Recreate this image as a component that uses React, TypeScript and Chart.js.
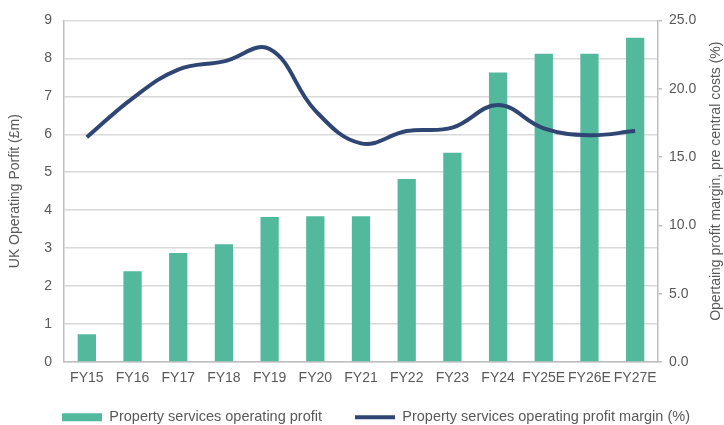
import React, { useEffect, useRef } from "react";
import { Chart, registerables } from "chart.js";

Chart.register(...registerables);

const categories = ["FY15", "FY16", "FY17", "FY18", "FY19", "FY20", "FY21", "FY22", "FY23", "FY24", "FY25E", "FY26E", "FY27E"];
const operatingProfit = [0.73, 2.39, 2.87, 3.1, 3.82, 3.84, 3.84, 4.82, 5.51, 7.63, 8.12, 8.12, 8.54];
const operatingMargin = [16.45, 19.3, 21.4, 22.0, 22.9, 18.4, 16.0, 16.9, 17.15, 18.8, 17.1, 16.6, 16.9];
const leftTicks = [0, 1, 2, 3, 4, 5, 6, 7, 8, 9];
const rightTicks = [0, 5, 10, 15, 20, 25];
const leftTitle = "UK Operating Porfit (£m)";
const rightTitle = "Opertaing profit margin, pre central costs (%)";

const BAR = "#52b99d";
const LINE = "#2f4675";
const TEXT = "#595959";
const FONT = "'Liberation Sans', Arial, sans-serif";

const rightTitlePlugin = {
  id: "rightTitle",
  afterDraw(chart: any) {
    const { ctx, chartArea } = chart;
    ctx.save();
    ctx.fillStyle = TEXT;
    ctx.font = `14px ${FONT}`;
    ctx.textAlign = "center";
    ctx.textBaseline = "middle";
    ctx.translate(716, (chartArea.top + chartArea.bottom) / 2 - 10);
    ctx.rotate(-Math.PI / 2);
    ctx.fillText(rightTitle, 0, 0);
    ctx.restore();
  },
};

const legendShiftPlugin = {
  id: "legendShift",
  afterLayout(chart: any) {
    const lg = chart.legend;
    if (!lg || !lg.lineWidths) return;
    const p = lg.options.labels.padding;
    const x = (lg.left + p + lg.right - lg.lineWidths[0]) / 2;
    const dx = 62 - x;
    lg.left += dx;
    lg.right += dx;
    lg.top -= 10;
  },
};

export default function App() {
  const ref = useRef<HTMLCanvasElement>(null);
  useEffect(() => {
    if (!ref.current) return;
    const chart = new Chart(ref.current, {
      data: {
        labels: categories,
        datasets: [
          {
            type: "line",
            label: "Property services operating profit margin (%)",
            data: operatingMargin,
            yAxisID: "y1",
            borderColor: LINE,
            backgroundColor: LINE,
            borderWidth: 4,
            pointRadius: 0,
            tension: 0.4,
            pointStyle: "line",
            order: 0,
          },
          {
            type: "bar",
            label: "Property services operating profit",
            data: operatingProfit,
            yAxisID: "y",
            backgroundColor: BAR,
            borderWidth: 0,
            barPercentage: 0.4,
            categoryPercentage: 1,
            pointStyle: "rect",
            order: 1,
          },
        ],
      },
      plugins: [rightTitlePlugin, legendShiftPlugin],
      options: {
        animation: false,
        responsive: true,
        maintainAspectRatio: false,
        layout: { padding: { left: 6, right: 0, top: 15, bottom: 0 } },
        plugins: {
          tooltip: { enabled: false },
          legend: {
            position: "bottom",
            reverse: true,
            maxHeight: 38,
            labels: {
              usePointStyle: true,
              pointStyleWidth: 40,
              boxWidth: 40,
              boxHeight: 8,
              padding: 33,
              color: TEXT,
              font: { family: FONT, size: 14.5 },
            },
          },
        },
        scales: {
          x: {
            grid: { display: false, drawTicks: false },
            border: { color: "#bfbfbf", width: 1.5 },
            ticks: { color: TEXT, font: { family: FONT, size: 14 }, padding: 8, maxRotation: 0, autoSkip: false },
            afterFit: (axis: any) => {
              axis.height = 25;
            },
          },
          y: {
            position: "left",
            min: 0,
            max: 9,
            afterBuildTicks: (axis: any) => {
              axis.ticks = leftTicks.map((v) => ({ value: v }));
            },
            afterFit: (axis: any) => {
              axis.width = 58;
            },
            grid: { color: "#d9d9d9", lineWidth: 1.5, drawTicks: false },
            border: { color: "#bfbfbf", width: 1.5 },
            ticks: { color: TEXT, font: { family: FONT, size: 14 }, padding: 12 },
            title: { display: true, text: leftTitle, color: TEXT, font: { family: FONT, size: 14 }, padding: 1 },
          },
          y1: {
            position: "right",
            min: 0,
            max: 25,
            afterBuildTicks: (axis: any) => {
              axis.ticks = rightTicks.map((v) => ({ value: v }));
            },
            afterFit: (axis: any) => {
              axis.width = 66;
            },
            grid: { drawOnChartArea: false, drawTicks: true, tickLength: 4, color: "#bfbfbf", lineWidth: 1.5 },
            border: { color: "#bfbfbf", width: 1.5 },
            ticks: { color: TEXT, font: { family: FONT, size: 14 }, padding: 7, callback: (v: any) => Number(v).toFixed(1) },
          },
        },
      },
    });
    return () => chart.destroy();
  }, []);
  return (
    <div style={{ position: "fixed", left: 0, top: 0, width: 724, height: 425, background: "#fff" }}>
      <canvas ref={ref} />
    </div>
  );
}
